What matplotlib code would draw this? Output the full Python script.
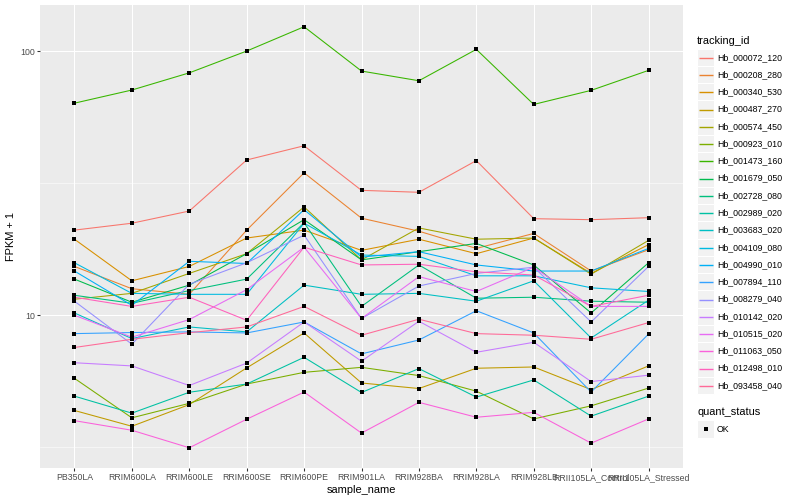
import numpy as np
import matplotlib
matplotlib.use("Agg")
import matplotlib.pyplot as plt
from matplotlib.patches import Rectangle
from matplotlib.lines import Line2D

samples = ["PB350LA", "RRIM600LA", "RRIM600LE", "RRIM600SE", "RRIM600PE",
           "RRIM901LA", "RRIM928BA", "RRIM928LA", "RRIM928LB",
           "RRII105LA_Control", "RRII105LA_Stressed"]

tracking_ids = ["Hb_000072_120", "Hb_000208_280", "Hb_000340_530", "Hb_000487_270",
                "Hb_000574_450", "Hb_000923_010", "Hb_001473_160", "Hb_001679_050",
                "Hb_002728_080", "Hb_002989_020", "Hb_003683_020", "Hb_004109_080",
                "Hb_004990_010", "Hb_007894_110", "Hb_008279_040", "Hb_010142_020",
                "Hb_010515_020", "Hb_011063_050", "Hb_012498_010", "Hb_093458_040"]

# FPKM + 1 per gene, in sample order
hb_000072_120 = [21.0, 22.3, 24.8, 38.7, 43.8, 29.7, 29.2, 38.5, 23.2, 23.0, 23.4]
hb_000208_280 = [15.3, 12.6, 12.0, 21.0, 34.6, 23.3, 20.8, 17.9, 20.4, 14.7, 17.7]
hb_000340_530 = [19.4, 13.5, 15.3, 19.6, 21.0, 17.6, 19.4, 17.1, 19.6, 14.4, 18.5]
hb_000487_270 = [4.36, 3.80, 4.59, 6.32, 8.57, 5.54, 5.28, 6.30, 6.37, 5.23, 6.43]
hb_000574_450 = [11.5, 12.1, 14.4, 17.1, 25.7, 16.2, 21.4, 19.4, 19.6, 14.3, 19.2]
hb_000923_010 = [5.77, 4.09, 4.64, 5.49, 6.08, 6.35, 5.91, 5.16, 4.05, 4.54, 5.30]
hb_001473_160 = [63.5, 71.2, 82.7, 100.0, 123.6, 84.0, 77.2, 101.5, 62.8, 71.0, 84.5]
hb_001679_050 = [13.7, 11.2, 13.0, 17.1, 23.0, 16.2, 17.4, 18.7, 15.5, 10.2, 15.8]
hb_002728_080 = [11.9, 11.1, 12.4, 13.7, 22.4, 10.8, 15.5, 11.6, 11.7, 11.3, 11.2]
hb_002989_020 = [4.94, 4.26, 5.11, 5.49, 6.93, 5.10, 6.28, 4.90, 5.69, 4.15, 4.94]
hb_003683_020 = [10.2, 8.16, 9.03, 8.65, 13.0, 12.0, 12.1, 11.3, 13.5, 8.20, 11.4]
hb_004109_080 = [15.8, 12.1, 12.0, 12.0, 22.3, 16.9, 16.7, 14.1, 14.1, 12.7, 12.3]
hb_004990_010 = [14.7, 10.9, 16.0, 15.7, 25.1, 16.6, 17.4, 15.5, 14.7, 14.7, 17.9]
hb_007894_110 = [8.52, 8.60, 8.65, 8.57, 9.43, 7.14, 8.06, 10.4, 8.57, 5.12, 8.49]
hb_008279_040 = [11.3, 7.77, 13.1, 15.8, 20.1, 9.72, 12.9, 14.4, 15.2, 9.43, 15.3]
hb_010142_020 = [6.61, 6.43, 5.42, 6.59, 9.43, 6.70, 9.49, 7.24, 7.90, 5.61, 5.93]
hb_010515_020 = [10.0, 8.26, 9.63, 12.5, 18.1, 9.72, 14.0, 12.3, 15.2, 10.8, 10.8]
hb_011063_050 = [3.99, 3.67, 3.15, 4.04, 5.12, 3.58, 4.68, 4.11, 4.29, 3.28, 4.05]
hb_012498_010 = [11.7, 10.8, 11.7, 9.57, 18.1, 15.5, 15.6, 14.6, 14.2, 10.8, 11.9]
hb_093458_040 = [7.55, 8.11, 8.59, 9.03, 10.8, 8.40, 9.66, 8.52, 8.40, 8.11, 9.38]

series = [hb_000072_120, hb_000208_280, hb_000340_530, hb_000487_270, hb_000574_450,
          hb_000923_010, hb_001473_160, hb_001679_050, hb_002728_080, hb_002989_020,
          hb_003683_020, hb_004109_080, hb_004990_010, hb_007894_110, hb_008279_040,
          hb_010142_020, hb_010515_020, hb_011063_050, hb_012498_010, hb_093458_040]


def hcl_rgb(h, c=100.0, l=65.0):
    hr = np.deg2rad(h)
    u, v = c * np.cos(hr), c * np.sin(hr)
    Xn, Yn, Zn = 95.047, 100.0, 108.883
    un = 4 * Xn / (Xn + 15 * Yn + 3 * Zn)
    vn = 9 * Yn / (Xn + 15 * Yn + 3 * Zn)
    Y = Yn * (((l + 16) / 116) ** 3 if l > 8 else l / 903.3)
    up = u / (13 * l) + un
    vp = v / (13 * l) + vn
    X = 9.0 * Y * up / (4 * vp)
    Z = -X / 3 - 5 * Y + 3 * Y / vp
    xyz = np.array([X, Y, Z]) / 100.0
    M = np.array([[3.240479, -1.537150, -0.498535],
                  [-0.969256, 1.875992, 0.041556],
                  [0.055648, -0.204043, 1.057311]])
    rgb = M @ xyz
    out = []
    for ch in rgb:
        ch = max(ch, 0.0)
        ch = 12.92 * ch if ch <= 0.0031308 else 1.055 * ch ** (1 / 2.4) - 0.055
        out.append(min(max(ch, 0), 1))
    return tuple(out)


n = len(tracking_ids)
colors = [hcl_rgb(15 + 360.0 * i / n) for i in range(n)]

W, H = 800, 500
plt.rcParams["font.family"] = ["Liberation Sans", "DejaVu Sans"]
fig = plt.figure(figsize=(W / 72, H / 72), dpi=72)
fig.patch.set_facecolor("white")

L, R, T, B = 40, 683, 5, 468.3
ax = fig.add_axes([L / W, 1 - B / H, (R - L) / W, (B - T) / H])
ax.set_facecolor("#EBEBEB")
for s in ax.spines.values():
    s.set_visible(False)

x = np.arange(len(samples))
ax.set_yscale("log")
ax.set_xlim(-0.6, len(samples) - 1 + 0.6)
ax.set_ylim(2.634, 149.4)

# grid
for yv in [10, 100]:
    ax.axhline(yv, color="white", lw=1.07, zorder=0.5)
for yv in [10 ** 0.5, 10 ** 1.5]:
    ax.axhline(yv, color="white", lw=0.53, zorder=0.5)
for xv in x:
    ax.axvline(xv, color="white", lw=1.07, zorder=0.5)

for vals, col in zip(series, colors):
    ax.plot(x, vals, color=col, lw=1.07, zorder=2, solid_capstyle="butt")
for vals in series:
    ax.plot(x, vals, ls="none", marker="s", ms=3.4, mew=0, color="black", zorder=3)

ax.set_yticks([10, 100])
ax.set_yticklabels(["10", "100"])
ax.yaxis.set_minor_locator(matplotlib.ticker.NullLocator())
ax.set_xticks(x)
ax.set_xticklabels(samples)
ax.tick_params(axis="both", length=2.75, width=1.07, color="#333333",
               labelcolor="#4D4D4D", labelsize=8.8, pad=2.2)
ax.set_xlabel("sample_name", fontsize=11, color="black", labelpad=2.5)
ax.set_ylabel("FPKM + 1", fontsize=11, color="black", labelpad=4)

# legend (drawn in pixel coordinates on an overlay axes)
lg = fig.add_axes([0, 0, 1, 1], facecolor="none")
lg.set_xlim(0, W)
lg.set_ylim(H, 0)
lg.axis("off")

lx, kw = 697, 17.27
lg.text(lx, 40.5, "tracking_id", fontsize=11, va="center", ha="left")
y0 = 57.3 - kw / 2
for i, (name, col) in enumerate(zip(tracking_ids, colors)):
    yt = y0 + i * kw
    yc = np.floor(yt + kw / 2) + 0.5
    lg.add_patch(Rectangle((lx, yt), kw, kw, facecolor="#F2F2F2",
                           edgecolor="white", lw=1.0, zorder=1))
    lg.add_line(Line2D([lx + 1.7, lx + kw - 1.7], [yc, yc],
                       color=col, lw=1.4, zorder=3, solid_capstyle="butt"))
    lg.text(lx + kw + 2.8, yt + kw / 2, name, fontsize=8.8, va="center", ha="left")

lg.text(lx, 412.3, "quant_status", fontsize=11, va="center", ha="left")
yt = 429 - kw / 2
lg.add_patch(Rectangle((lx, yt), kw, kw, facecolor="#F2F2F2", edgecolor="white", lw=1.0, zorder=1))
lg.add_line(Line2D([lx + kw / 2], [yt + kw / 2], marker="s", ms=3.4, mew=0, color="black",
                   ls="none", zorder=3))
lg.text(lx + kw + 2.8, yt + kw / 2, "OK", fontsize=8.8, va="center", ha="left")

fig.savefig("out.png", dpi=72, facecolor="white")
